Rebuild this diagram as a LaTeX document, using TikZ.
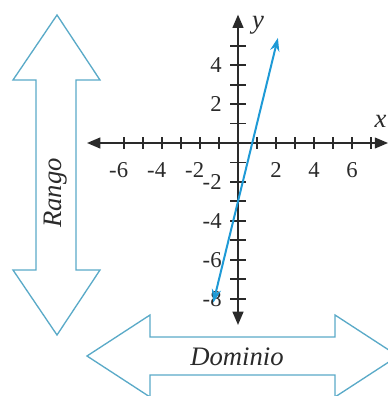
\documentclass[tikz,border=0pt]{standalone}
\usepackage{fontspec}
\setmainfont{Liberation Serif}
\usetikzlibrary{arrows.meta}
\definecolor{outline}{HTML}{5AAAC8}
\definecolor{graphline}{HTML}{1E9AD6}
\definecolor{axiscolor}{HTML}{2A2A2A}

\begin{document}
\begin{tikzpicture}[x=0.75pt, y=-0.75pt,
    bigarrow/.style={draw=outline, line width=1pt, fill=white},
    axisline/.style={draw=axiscolor, line width=1.6pt,
        arrows={Triangle[length=10pt,width=8pt]-Triangle[length=10pt,width=8pt]}},
    tickmark/.style={draw=axiscolor, line width=1.4pt},
    num/.style={font=\fontsize{17}{17}\selectfont, text=axiscolor, inner sep=0pt},
    word/.style={font=\fontsize{20}{20}\selectfont\itshape, text=axiscolor, inner sep=0pt}]
    \useasboundingbox (0,0) rectangle (388,396);
    \clip (0,0) rectangle (388,396);

    % Rango arrow
    \draw[bigarrow] (57,15) -- (100,80) -- (76,80) -- (76,270) -- (100,270) -- (57,335)
        -- (13,270) -- (36,270) -- (36,80) -- (13,80) -- cycle;
    \node[word, rotate=90] (rango) at (56,193) {Rango};

    % Dominio arrow
    \draw[bigarrow] (87,356) -- (150,315) -- (150,337) -- (335,337) -- (335,315) -- (398,356)
        -- (335,397) -- (335,375) -- (150,375) -- (150,397) -- cycle;
    \node[word] (dominio) at (237,357) {Dominio};

    \begin{scope}[shift={(238,143)}, x=14.25pt, y=14.6pt]
        \coordinate (xmin) at (-7.95,0);
        \coordinate (xmax) at (7.9,0);
        \coordinate (ymin) at (0,-9.35);
        \coordinate (ymax) at (0,6.6);

        % Axes
        \draw[axisline] (xmin) -- (xmax);
        \draw[axisline] (ymin) -- (ymax);
        \foreach \t in {-6,...,-1,1,2,...,7}
            \draw[tickmark] (\t,0) +(0,-0.3) -- +(0,0.3);
        \foreach \t in {-8,...,-1,1,2,...,5}
            \draw[tickmark] (0,\t) +(-0.4,0) -- +(0.4,0);

        % Numbers
        \foreach \t [count=\i] in {-6,-4,-2}
            \node[num, xshift=-4pt] (xneg\i) at (\t,-1.4) {\t};
        \foreach \t [count=\i] in {2,4,6}
            \node[num] (xpos\i) at (\t,-1.4) {\t};
        \foreach \t [count=\i] in {4,2,-2,-4,-6,-8}
            \node[num, anchor=east] (ynum\i) at (-0.85,\t) {\t};

        \node[word] (ylab) at (1.05,6.05) {y};
        \node[word] (xlab) at (7.5,1.1) {x};

        % Graph of the line
        \coordinate (gstart) at (-1.3,-8.2);
        \coordinate (gend) at (2.1,5.4);
        \draw[graphline, line width=1.5pt, arrows={Stealth[length=10pt,width=7pt]-Stealth[length=10pt,width=7pt]}] (gstart) -- (gend);
    \end{scope}
\end{tikzpicture}
\end{document}
